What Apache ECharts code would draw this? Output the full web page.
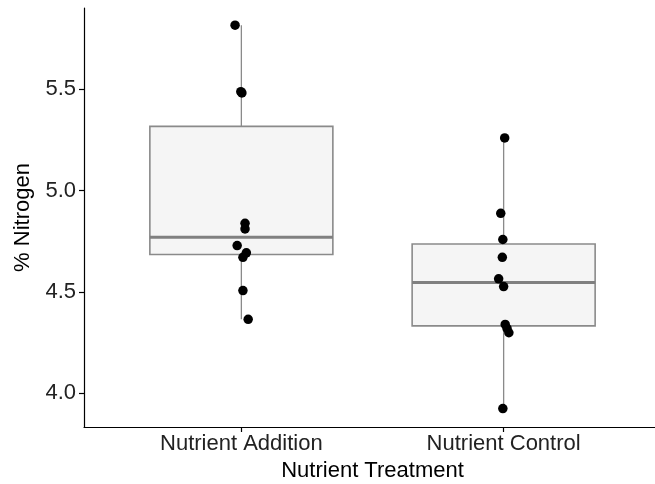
<!DOCTYPE html>
<html>
<head>
<meta charset="utf-8">
<script src="https://cdn.jsdelivr.net/npm/echarts@6/dist/echarts.min.js"></script>
<style>
html,body{margin:0;padding:0;background:#fff;}
#chart{width:655px;height:484px;}
</style>
</head>
<body>
<div id="chart"></div>
<script>
const categories = ['Nutrient Addition', 'Nutrient Control'];
const yTicks = [4.0, 4.5, 5.0, 5.5];

// individual observations (% N) and their horizontal jitter (category units)
const additionValues = [5.816, 5.488, 5.482, 4.839, 4.811, 4.729, 4.693, 4.671, 4.507, 4.365];
const additionJitter = [-0.024, -0.002, 0.002, 0.014, 0.014, -0.016, 0.019, 0.006, 0.006, 0.026];
const controlValues = [5.260, 4.888, 4.759, 4.671, 4.565, 4.527, 4.340, 4.320, 4.299, 3.925];
const controlJitter = [0.004, -0.011, -0.003, -0.005, -0.019, 0.000, 0.006, 0.013, 0.020, -0.003];

// box statistics: [min, Q1, median, Q3, max]
const additionBox = [4.365, 4.685, 4.770, 5.317, 5.816];
const controlBox = [3.925, 4.333, 4.547, 4.737, 5.260];

const boxes = [additionBox, controlBox];
const groups = [
  {values: additionValues, jitter: additionJitter},
  {values: controlValues, jitter: controlJitter}
];

const FONT = "'Liberation Sans', Arial, sans-serif";
const BOX_W = 183;
const GREY = '#8a8a8a';

const whiskerData = boxes.map((b, i) => [i, b[0], b[1], b[2], b[3], b[4]]);
const boxData = boxes.map((b, i) => [i, b[1], b[1], b[2], b[3], b[3]]);
const medianData = boxes.map((b, i) => [i, b[2], b[2], b[2], b[2], b[2]]);
const pointData = [];
groups.forEach((g, i) => g.values.forEach((v, j) => pointData.push([i + g.jitter[j], v])));

const hiddenX = {type: 'value', min: -0.6, max: 1.6, show: false, gridIndex: 0};

const chart = echarts.init(document.getElementById('chart'), null, {renderer: 'canvas'});
chart.setOption({
  animation: false,
  backgroundColor: '#ffffff',
  textStyle: {fontFamily: FONT},
  grid: {left: 84, top: 8, width: 577, height: 419, containLabel: false, outerBoundsMode: 'none'},
  xAxis: [
    {
      type: 'value', min: -0.6, max: 1.6,
      splitLine: {show: false},
      axisLine: {show: true, onZero: false, lineStyle: {color: '#000', width: 1.2}},
      axisTick: {show: true, customValues: [0, 1], length: 5, lineStyle: {color: '#000', width: 1.2}},
      axisLabel: {
        customValues: [0, 1],
        formatter: v => categories[Math.round(v)],
        fontSize: 22, color: '#222', margin: 6, fontFamily: FONT
      },
      name: 'Nutrient Treatment', nameLocation: 'middle', nameGap: 30,
      nameTextStyle: {fontSize: 22, color: '#000', fontFamily: FONT}
    },
    hiddenX,
    Object.assign({}, hiddenX)
  ],
  yAxis: {
    type: 'value', min: 3.834, max: 5.901,
    splitLine: {show: false},
    axisLine: {show: true, onZero: false, lineStyle: {color: '#000', width: 1.2}},
    axisTick: {show: true, customValues: yTicks, length: 5, lineStyle: {color: '#000', width: 1.2}},
    axisLabel: {
      customValues: yTicks,
      formatter: v => Number(v).toFixed(1),
      fontSize: 22, color: '#222', margin: 8, fontFamily: FONT
    },
    name: '% Nitrogen', nameLocation: 'middle', nameGap: 50, nameRotate: 90,
    nameTextStyle: {fontSize: 22, color: '#000', fontFamily: FONT}
  },
  series: [
    {
      type: 'boxplot', xAxisIndex: 1, z: 1, boxWidth: [0, 0],
      data: whiskerData,
      itemStyle: {color: 'none', borderColor: GREY, borderWidth: 1.3},
      emphasis: {disabled: true}, silent: true
    },
    {
      type: 'boxplot', xAxisIndex: 0, z: 2, boxWidth: [BOX_W, BOX_W],
      data: boxData,
      itemStyle: {color: '#f5f5f5', borderColor: GREY, borderWidth: 1.6},
      emphasis: {disabled: true}, silent: true
    },
    {
      type: 'boxplot', xAxisIndex: 2, z: 3, boxWidth: [BOX_W, BOX_W],
      data: medianData,
      itemStyle: {color: 'none', borderColor: '#808080', borderWidth: 3},
      emphasis: {disabled: true}, silent: true
    },
    {
      type: 'scatter', xAxisIndex: 0, z: 4,
      data: pointData, symbol: 'circle', symbolSize: 9.5,
      itemStyle: {color: '#000', opacity: 1},
      emphasis: {disabled: true}, silent: true
    }
  ]
});
</script>
</body>
</html>
